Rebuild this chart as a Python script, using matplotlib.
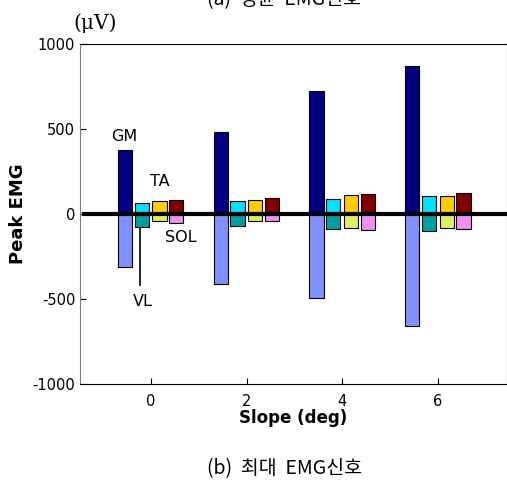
import numpy as np
import matplotlib.pyplot as plt

# peak EMG per slope, positive and negative peaks for each muscle
slopes = [0, 2, 4, 6]
muscles = ['GM', 'VL', 'TA', 'SOL']
gm_pos = [376, 481, 726, 873]
gm_neg = [-310, -410, -493, -656]
vl_pos = [63, 79, 89, 103]
vl_neg = [-75, -70, -87, -99]
ta_pos = [79, 85, 109, 103]
ta_neg = [-44, -44, -81, -81]
sol_pos = [85, 97, 119, 126]
sol_neg = [-50, -44, -93, -87]

pos_vals = [gm_pos, vl_pos, ta_pos, sol_pos]
neg_vals = [gm_neg, vl_neg, ta_neg, sol_neg]
pos_colors = ['#000080', '#00E0FF', '#FFCC00', '#800000']
neg_colors = ['#8090FF', '#00A0A0', '#E0F060', '#F090F0']
offsets = [-0.54, -0.19, 0.18, 0.53]

plt.rcParams['font.family'] = ['DejaVu Sans']
plt.rcParams['axes.unicode_minus'] = False

fig = plt.figure(figsize=(5.07, 4.82), dpi=100)
ax = fig.add_axes([0.158, 0.2033, 0.842, 0.7054])

x = np.array(slopes, dtype=float)
for i in range(4):
    ax.bar(x + offsets[i], pos_vals[i], width=0.3, color=pos_colors[i],
           edgecolor='black', linewidth=0.8, zorder=2)
    ax.bar(x + offsets[i], neg_vals[i], width=0.3, color=neg_colors[i],
           edgecolor='black', linewidth=0.8, zorder=2)

ax.plot([-1.4, 7.6], [0, 0], color='black', linewidth=3, zorder=3)

# labels for the first group
ax.text(-0.565, 456, 'GM', fontsize=11.5, ha='center', va='center')
ax.text(0.19, 194, 'TA', fontsize=11.5, ha='center', va='center')
ax.text(0.62, -141, 'SOL', fontsize=11.5, ha='center', va='center')
ax.plot([-0.23, -0.23], [-80, -415], color='black', linewidth=1.2)
ax.text(-0.18, -512, 'VL', fontsize=11.5, ha='center', va='center')

ax.set_xlim(-1.48, 7.44)
ax.set_ylim(-1000, 1000)
ax.set_xticks([0, 2, 4, 6])
ax.set_yticks([-1000, -500, 0, 500, 1000])
ax.tick_params(direction='in', length=4, labelsize=10.5)
ax.tick_params(axis='x', pad=7)
ax.spines['left'].set_color('gray')
ax.set_xlabel('Slope (deg)', fontsize=12, fontweight='bold', labelpad=0)
ax.set_ylabel('Peak EMG', fontsize=13, fontweight='bold', labelpad=4)

fig.text(0.187, 0.952, '(\u03bcV)', fontsize=14.5, ha='center', va='center',
         family='DejaVu Serif')
fig.text(0.56, 1.0, '(a)  평균  EMG신호', fontsize=14, ha='center', va='center',
         family=['Noto Sans CJK KR', 'DejaVu Sans'])
fig.text(0.562, 0.028, '(b)  최대  EMG신호', fontsize=14, ha='center', va='center',
         family=['Noto Sans CJK KR', 'DejaVu Sans'])

plt.savefig('out.png', dpi=100)
